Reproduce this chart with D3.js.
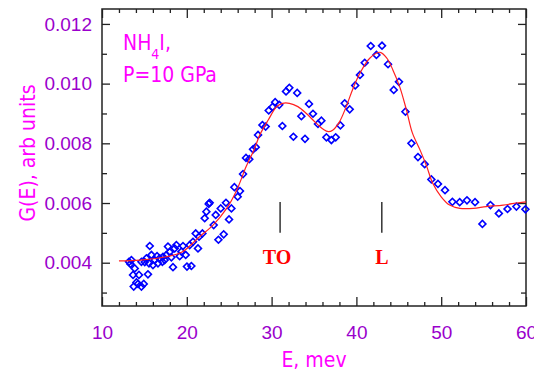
<!DOCTYPE html>
<html>
<head>
<meta charset="utf-8">
<title>NH4I G(E)</title>
<script src="https://cdn.jsdelivr.net/npm/d3@7/dist/d3.min.js"></script>
<style>
body { margin: 0; background: #fff; }
svg { display: block; font-family: "DejaVu Sans Condensed", "DejaVu Sans", sans-serif; font-stretch: condensed; }
.axis path { display: none; }
.axis line { stroke: #222; stroke-width: 1.3px; }
.axis text { fill: #9a00cc; font-size: 19px; }
.label { fill: #ff00ff; font-size: 21px; }
.mode { fill: #ff0000; font-family: "Liberation Serif", "DejaVu Serif", serif; font-weight: bold; font-size: 20px; font-stretch: normal; }
</style>
</head>
<body>
<svg width="534" height="371"></svg>
<script>
// measured points, E (meV) and G(E)
var energy = [13.18,13.47,13.35,13.86,13.66,14.36,15.42,13.74,14.25,14.65,14.92,14.65,15.24,15.63,15.83,15.54,16.21,16.49,16.80,16.01,16.60,17.19,17.12,17.59,17.78,18.18,18.37,18.57,18.77,19.16,19.36,19.55,19.87,20.02,20.54,20.34,20.73,21.05,21.32,21.44,21.84,15.04,17.39,17.98,14.06,
  22.11,22.31,22.58,22.70,23.17,23.41,23.73,24.35,24.0,24.62,24.98,25.26,25.61,26.0,26.27,26.63,26.98,27.37,27.81,28.13,28.40,
  28.92,29.30,29.66,30.11,30.42,30.90,31.27,31.70,32.09,33.02,32.57,33.94,33.51,34.41,34.88,35.87,35.47,36.46,37.05,37.56,38.11,38.62,39.21,39.86,40.42,40.98,41.69,42.36,43.02,43.73,44.40,45.02,45.78,46.49,47.26,48.05,48.84,49.62,50.45,51.32,52.18,53.04,53.99,54.86,55.81,56.80,57.82,58.87,59.93];
var gValues = [0.00403,0.00409,0.00396,0.00381,0.00359,0.00359,0.00361,0.00320,0.00329,0.00320,0.00329,0.00403,0.00415,0.00456,0.00426,0.00398,0.00409,0.00422,0.00415,0.00392,0.00398,0.00420,0.00403,0.00426,0.00454,0.00418,0.00385,0.00448,0.00459,0.00422,0.00437,0.00456,0.00426,0.00387,0.00389,0.00459,0.00470,0.00498,0.00448,0.00487,0.00498,0.00402,0.00409,0.00436,0.00334,
  0.00549,0.00571,0.00597,0.00601,0.00526,0.00560,0.00477,0.00495,0.00582,0.00601,0.00545,0.00582,0.00653,0.00621,0.00640,0.00697,0.00751,0.00747,0.00780,0.00787,0.00828,
  0.00861,0.00856,0.00910,0.00922,0.00938,0.00929,0.00858,0.00974,0.00986,0.00969,0.00822,0.00815,0.00891,0.00932,0.00899,0.00876,0.00865,0.00820,0.00811,0.00820,0.00860,0.00934,0.00914,0.00994,0.01029,0.01070,0.01126,0.01096,0.01127,0.01065,0.00979,0.01006,0.00906,0.00800,0.00754,0.00730,0.00679,0.00664,0.00643,0.00604,0.00603,0.00609,0.00603,0.00530,0.00593,0.00565,0.00580,0.00588,0.00579];

// fitted curve
var fitE = [12.0,14.5,17.6,19.5,21.5,23.1,24.7,25.9,27.0,28.0,28.6,29.6,30.6,31.3,32.1,33.1,34.1,35.1,36.1,36.7,37.2,38.0,38.8,39.6,40.4,41.6,42.8,43.6,44.3,45.1,45.9,46.6,47.5,48.3,49.0,50.0,51.0,52.2,53.8,55.3,57.3,59.1,60.0];
var fitG = [0.00406,0.00409,0.00420,0.00437,0.00487,0.00526,0.00582,0.00644,0.00722,0.00783,0.00828,0.00878,0.00923,0.00934,0.00934,0.00923,0.00900,0.00872,0.00847,0.00839,0.00844,0.00872,0.00923,0.00984,0.01034,0.01086,0.01105,0.01085,0.01046,0.00990,0.00912,0.00835,0.00778,0.00722,0.00666,0.00621,0.00593,0.00582,0.00582,0.00588,0.00593,0.00601,0.00604];

var xTicks = [10, 20, 30, 40, 50, 60];
var xMinor = [12,14,16,18,22,24,26,28,32,34,36,38,42,44,46,48,52,54,56,58];
var yTicks = [0.004, 0.006, 0.008, 0.010, 0.012];
var yMinor = [0.003, 0.005, 0.007, 0.009, 0.011];

var modeNames = ["TO", "L"];
var modeE = [31.0, 43.0];

var svg = d3.select("svg"),
  margin = {top: 9, right: 8, bottom: 65, left: 102},
  width = +svg.attr("width") - margin.left - margin.right,
  height = +svg.attr("height") - margin.top - margin.bottom,
  g = svg.append("g").attr("transform", "translate(" + margin.left + "," + margin.top + ")");

var x = d3.scaleLinear().domain([10, 60]).range([0, width]);
var y = d3.scaleLinear().domain([0.00255, 0.0125]).range([height, 0]);

// axes, ticks on the inside of the frame
g.append("g").attr("class", "axis").attr("transform", "translate(0," + height + ")")
  .call(d3.axisBottom(x).tickValues(xTicks).tickSizeInner(-9).tickSizeOuter(0).tickPadding(20).tickFormat(d3.format("d")));
g.append("g").attr("class", "axis").attr("transform", "translate(0," + height + ")")
  .call(d3.axisBottom(x).tickValues(xMinor).tickSizeInner(-4).tickSizeOuter(0).tickFormat(""));
g.append("g").attr("class", "axis")
  .call(d3.axisTop(x).tickValues(xTicks).tickSizeInner(-9).tickSizeOuter(0).tickFormat(""));
g.append("g").attr("class", "axis")
  .call(d3.axisTop(x).tickValues(xMinor).tickSizeInner(-4).tickSizeOuter(0).tickFormat(""));

g.append("g").attr("class", "axis")
  .call(d3.axisLeft(y).tickValues(yTicks).tickSizeInner(-8).tickSizeOuter(0).tickPadding(10).tickFormat(d3.format(".3f")));
g.append("g").attr("class", "axis")
  .call(d3.axisLeft(y).tickValues(yMinor).tickSizeInner(-5).tickSizeOuter(0).tickFormat(""));
g.append("g").attr("class", "axis").attr("transform", "translate(" + width + ",0)")
  .call(d3.axisRight(y).tickValues(yTicks).tickSizeInner(-8).tickSizeOuter(0).tickFormat(""));
g.append("g").attr("class", "axis").attr("transform", "translate(" + width + ",0)")
  .call(d3.axisRight(y).tickValues(yMinor).tickSizeInner(-5).tickSizeOuter(0).tickFormat(""));

g.append("rect")
  .attr("width", width).attr("height", height)
  .attr("fill", "none").attr("stroke", "#222").attr("stroke-width", 1.5);

// data points
var pts = energy.map(function(e, i) { return {e: e, v: gValues[i]}; });
var diamond = d3.symbol().type(d3.symbolSquare).size(24);
g.selectAll(".pt")
  .data(pts)
  .enter().append("path")
  .attr("class", "pt")
  .attr("d", diamond)
  .attr("transform", function(d) { return "translate(" + x(d.e) + "," + y(d.v) + ") rotate(45)"; })
  .attr("fill", "none")
  .attr("stroke", "#0000ff")
  .attr("stroke-width", 1.6);

// fit line
var fit = fitE.map(function(e, i) { return {e: e, v: fitG[i]}; });
var line = d3.line()
  .x(function(d) { return x(d.e); })
  .y(function(d) { return y(d.v); })
  .curve(d3.curveCatmullRom);
g.append("path")
  .datum(fit)
  .attr("fill", "none")
  .attr("stroke", "#ff2020")
  .attr("stroke-width", 1.2)
  .attr("d", line);

// mode markers
modeE.forEach(function(e, i) {
  g.append("line")
    .attr("x1", x(e)).attr("x2", x(e))
    .attr("y1", y(0.00603)).attr("y2", y(0.00500))
    .attr("stroke", "#000").attr("stroke-width", 1.2);
  g.append("text")
    .attr("class", "mode")
    .attr("x", x(e) - (i == 0 ? 3 : 0))
    .attr("y", y(0.00395))
    .attr("text-anchor", "middle")
    .text(modeNames[i]);
});

// sample label
var lab = g.append("text").attr("class", "label").attr("x", 21).attr("y", 41);
lab.append("tspan").text("NH");
lab.append("tspan").attr("dy", 9).style("font-size", "14px").text("4");
lab.append("tspan").attr("dy", -9).text("I,");
g.append("text").attr("class", "label").attr("x", 21).attr("y", 73).text("P=10 GPa");

// axis titles
svg.append("text")
  .attr("class", "label")
  .attr("x", margin.left + width / 2)
  .attr("y", 367)
  .attr("text-anchor", "middle")
  .text("E, mev");

svg.append("text")
  .attr("class", "label")
  .attr("transform", "translate(35," + 153 + ") rotate(-90)")
  .attr("text-anchor", "middle")
  .text("G(E), arb units");
</script>
</body>
</html>
